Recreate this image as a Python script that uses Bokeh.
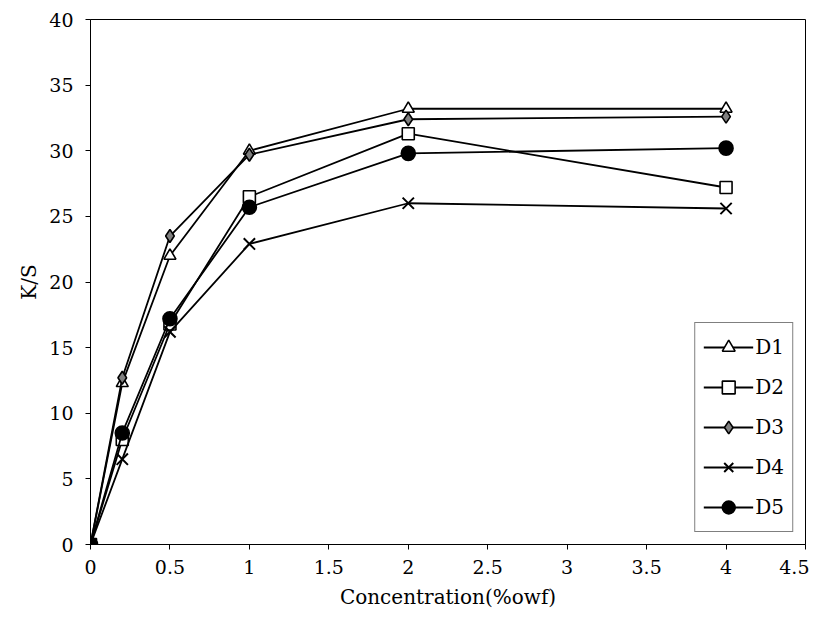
from bokeh.plotting import figure
from bokeh.models import Legend, LegendItem, Range1d
from bokeh.embed import file_html
from bokeh.resources import INLINE

conc = [0, 0.2, 0.5, 1, 2, 4]
d1 = [0, 12.3, 22.0, 30.0, 33.2, 33.2]
d2 = [0, 8.0, 16.8, 26.5, 31.3, 27.2]
d3 = [0, 12.7, 23.5, 29.7, 32.4, 32.6]
d4 = [0, 6.5, 16.2, 22.9, 26.0, 25.6]
d5 = [0, 8.5, 17.2, 25.7, 29.8, 30.2]

FONT = "DejaVu Serif"

p = figure(width=809, height=624, output_backend="svg", toolbar_location=None,
           x_range=Range1d(0, 4.5), y_range=Range1d(0, 40),
           min_border_left=90, min_border_right=4, min_border_top=19,
           min_border_bottom=80)
p.xgrid.visible = False
p.ygrid.visible = False
p.outline_line_color = "black"
p.outline_line_width = 1
p.xaxis.ticker = [0, 0.5, 1, 1.5, 2, 2.5, 3, 3.5, 4, 4.5]
p.yaxis.ticker = list(range(0, 45, 5))
for ax in (p.xaxis, p.yaxis):
    ax.axis_line_color = "black"
    ax.major_tick_line_color = "black"
    ax.minor_tick_line_color = None
    ax.major_tick_in = 0
    ax.major_tick_out = 5
    ax.major_label_text_font = FONT
    ax.major_label_text_font_size = "19px"
    ax.major_label_text_color = "black"
    ax.axis_label_text_font = FONT
    ax.axis_label_text_font_size = "20px"
    ax.axis_label_text_font_style = "normal"
    ax.axis_label_text_color = "black"
p.xaxis.axis_label = "Concentration(%owf)"
p.yaxis.axis_label = "K/S"
p.xaxis.axis_label_standoff = 8
p.xaxis.major_label_standoff = 10
p.yaxis.major_label_standoff = 12

items = []
specs = [
    ("D1", d1, "triangle", "white", 12),
    ("D2", d2, "square", "white", 12),
    ("D3", d3, "diamond", "#808080", 13),
    ("D4", d4, "x", "black", 16),
    ("D5", d5, "circle", "black", 14),
]
for name, ys, marker, fill, size in specs:
    ln = p.line(conc, ys, line_color="black", line_width=1.8)
    sc = p.scatter(conc, ys, marker=marker, size=size, fill_color=fill,
                   line_color="black", line_width=2 if marker == "x" else 1.6)
    items.append(LegendItem(label=name, renderers=[ln, sc]))

legend = Legend(items=items, location="bottom_right",
                label_text_font=FONT, label_text_font_size="20px",
                label_text_color="black",
                border_line_color="black", border_line_width=1,
                glyph_width=50, glyph_height=32, spacing=8,
                margin=12, padding=8, label_standoff=2)
p.add_layout(legend)

open("out.html", "w").write(file_html(p, INLINE))
